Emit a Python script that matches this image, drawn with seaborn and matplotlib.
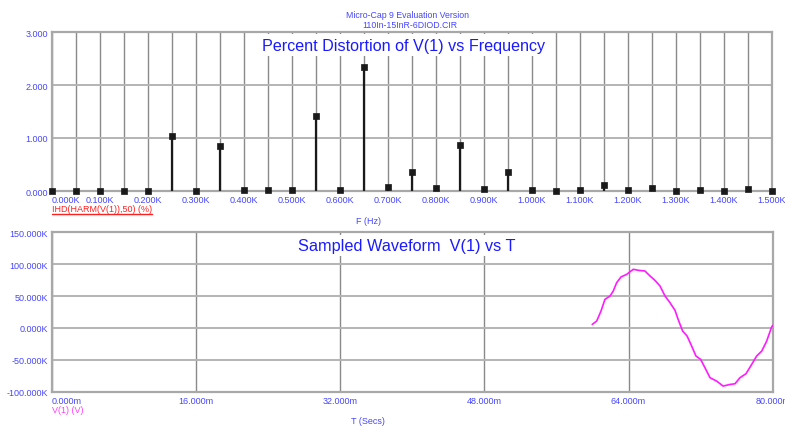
import matplotlib
matplotlib.use("Agg")
import matplotlib.pyplot as plt
import seaborn as sns
import pandas as pd
from matplotlib.ticker import MultipleLocator, FixedLocator
from matplotlib.lines import Line2D

# ---------------- data ----------------
freq_hz = [0, 50, 100, 150, 200, 250, 300, 350, 400, 450, 500, 550, 600, 650, 700,
           750, 800, 850, 900, 950, 1000, 1050, 1100, 1150, 1200, 1250, 1300, 1350,
           1400, 1450, 1500]
ihd_pct = [0.00, 0.00, 0.00, 0.00, 0.00, 1.04, 0.00, 0.84, 0.02, 0.02, 0.02, 1.41,
           0.02, 2.34, 0.08, 0.35, 0.06, 0.87, 0.03, 0.35, 0.02, 0.00, 0.02, 0.11,
           0.02, 0.06, 0.00, 0.02, 0.00, 0.04, 0.00]

time_ms = [59.97, 60.46, 60.94, 61.38, 61.94, 62.30, 62.68, 63.16, 63.79, 64.53,
           65.08, 65.82, 66.38, 66.93, 67.49, 68.05, 68.60, 69.16, 69.50, 70.00,
           70.50, 71.00, 71.48, 72.00, 72.48, 73.04, 73.78, 74.50, 75.26, 75.81,
           76.37, 77.03, 77.67, 78.22, 78.78, 79.33, 79.88, 80.00]
v1_kv = [5.6, 10.8, 26.5, 44.9, 50.0, 58.0, 71.0, 80.0, 84.0, 92.0,
         90.4, 89.3, 81.5, 74.7, 65.8, 50.0, 39.6, 27.5, 13.5, -4.9,
         -12.7, -28.4, -44.0, -49.3, -62.4, -78.0, -83.4, -91.2, -88.6, -87.6,
         -78.0, -71.9, -57.1, -44.0, -36.3, -20.6, 1.4, 4.0]

ihd_yticks = [0, 1, 2, 3]
freq_xticks = list(range(0, 1501, 100))
v_yticks = [-100, -50, 0, 50, 100, 150]
t_xticks = [0, 16, 32, 48, 64, 80]

# ---------------- style ----------------
sns.set_theme(style="white")
plt.rcParams["font.family"] = ["Liberation Sans", "DejaVu Sans"]

W, H = 785, 427
TICK_BLUE = "#4646ff"
TITLE_BLUE = "#1a1aff"
HGRID = "#b4b4b4"
VGRID = "#8a8a8a"
FRAME = "#a8a8a8"

fig = plt.figure(figsize=(W / 100, H / 100), dpi=100)
fig.patch.set_facecolor("white")


def px(x, y):
    return x / W, 1 - y / H


ax1 = fig.add_axes([52 / W, 1 - 192 / H, 720 / W, 159 / H])
ax2 = fig.add_axes([52 / W, 1 - 392.7 / H, 720.7 / W, 159.4 / H])

for ax in (ax1, ax2):
    for s in ax.spines.values():
        s.set_color(FRAME)
        s.set_linewidth(1.6)
    ax.tick_params(length=0, labelsize=6.5, labelcolor=TICK_BLUE, pad=3)
    ax.set_facecolor("white")

# ---------------- top plot ----------------
ax1.set_xlim(0, 1500)
ax1.set_ylim(0, 3)
ax1.xaxis.set_major_locator(FixedLocator(freq_xticks))
ax1.xaxis.set_minor_locator(MultipleLocator(50))
ax1.set_xticklabels([f"{v/1000:.3f}K" for v in freq_xticks])
ax1.set_yticks(ihd_yticks)
ax1.set_yticklabels([f"{v:.3f}" for v in ihd_yticks])
ax1.grid(True, axis="x", which="both", color=VGRID, lw=1.0)
ax1.grid(True, axis="y", which="major", color=HGRID, lw=1.4)
ax1.tick_params(axis="x", which="minor", length=0)
ax1.set_axisbelow(True)

ax1.vlines(freq_hz, 0, ihd_pct, color="#1a1a1a", lw=1.6, zorder=3)
df1 = pd.DataFrame({"F": freq_hz, "IHD": ihd_pct})
sns.scatterplot(data=df1, x="F", y="IHD", marker="s", s=22, color="#1a1a1a",
                edgecolor="#1a1a1a", linewidth=0.5, ax=ax1, zorder=5, clip_on=False)
ax1.set_xlabel("")
ax1.set_ylabel("")
labs = ax1.get_xticklabels()
labs[0].set_ha("left")

# ---------------- bottom plot ----------------
ax2.set_xlim(0, 80)
ax2.set_ylim(-100, 150)
ax2.set_xticks(t_xticks)
ax2.set_xticklabels([f"{v:.3f}m" for v in t_xticks])
ax2.set_yticks(v_yticks)
ax2.set_yticklabels([f"{v:.3f}K" for v in v_yticks])
ax2.grid(True, axis="x", color=VGRID, lw=1.0)
ax2.grid(True, axis="y", color=HGRID, lw=1.4)
ax2.set_axisbelow(True)
df2 = pd.DataFrame({"T": time_ms, "V": v1_kv})
sns.lineplot(data=df2, x="T", y="V", sort=False, color="#ff1aff", lw=1.2, ax=ax2,
             zorder=4)
ax2.set_xlabel("")
ax2.set_ylabel("")
labs2 = ax2.get_xticklabels()
labs2[0].set_ha("left")

# ---------------- texts ----------------
fig.text(*px(408, 15), "Micro-Cap 9 Evaluation Version", ha="center", va="center",
         fontsize=6.3, color=TICK_BLUE)
fig.text(*px(410, 26), "110In-15InR-6DIOD.CIR", ha="center", va="center",
         fontsize=6.3, color=TICK_BLUE)

fig.text(*px(404, 50.5), "Percent Distortion of V(1) vs Frequency", ha="center",
         va="baseline", fontsize=11.6, color=TITLE_BLUE, zorder=10,
         bbox=dict(facecolor="white", edgecolor="none", pad=2.5))
fig.text(*px(407, 251), "Sampled Waveform  V(1) vs T", ha="center",
         va="baseline", fontsize=11.7, color=TITLE_BLUE, zorder=10,
         bbox=dict(facecolor="white", edgecolor="none", pad=2.5))

t_ihd = fig.text(*px(52, 209.5), "IHD(HARM(V(1)),50) (%)", ha="left", va="center",
                 fontsize=6.5, color="#ff2020")
fig.text(*px(368, 221.5), "F (Hz)", ha="center", va="center", fontsize=6.5,
         color=TICK_BLUE)
fig.text(*px(52, 410.5), "V(1) (V)", ha="left", va="center", fontsize=6.5,
         color="#ff40ff")
fig.text(*px(368, 422), "T (Secs)", ha="center", va="center", fontsize=6.5,
         color=TICK_BLUE)

fig.canvas.draw()
bb = t_ihd.get_window_extent()
fig.add_artist(Line2D([bb.x0 / W, bb.x1 / W], [(bb.y0 - 0.5) / H] * 2,
                      color="#ff2020", lw=1.0))

fig.savefig("out.png", dpi=100, facecolor="white")
